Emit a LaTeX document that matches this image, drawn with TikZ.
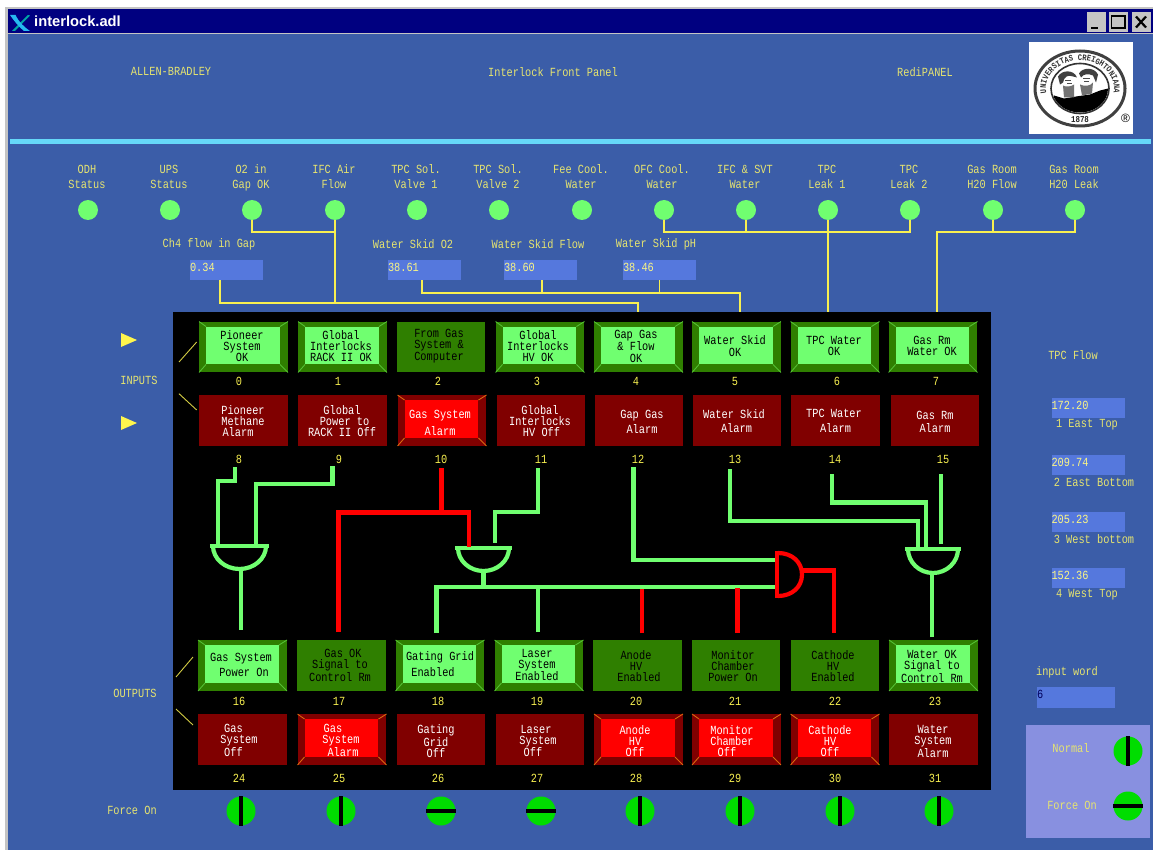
\documentclass[tikz,border=0pt]{standalone}
\usepackage{fontspec}
\usetikzlibrary{calc,decorations.text}
\newfontfamily\xf[FakeStretch=0.83]{Liberation Mono}
\newfontfamily\tf{Liberation Sans}
\definecolor{bgblue}{HTML}{3B5DA8}
\definecolor{navy}{HTML}{000080}
\definecolor{cyanbar}{HTML}{66D8F8}
\definecolor{valblue}{HTML}{5578DD}
\definecolor{forcep}{HTML}{8890E0}
\definecolor{lab}{HTML}{E6E470}
\definecolor{wy}{HTML}{F8F050}
\definecolor{lg}{HTML}{70FF70}
\definecolor{dg}{HTML}{2F7F00}
\definecolor{dgl}{HTML}{55C035}
\definecolor{dr}{HTML}{800000}
\definecolor{drl}{HTML}{D86A10}
\definecolor{sw}{HTML}{00DD00}
\definecolor{wingrey}{HTML}{C4C4C4}
\tikzset{
  xlabel/.style={font=\xf\fontsize{12.4}{15}\selectfont,text=lab,align=center,inner sep=0pt},
  numlabel/.style={font=\xf\fontsize{12.4}{15}\selectfont,text=wy,inner sep=0pt},
  lamp/.style={circle,fill=lg,inner sep=0pt,minimum size=20pt},
  valbox/.style={fill=valblue,minimum width=73pt,minimum height=20pt,inner sep=0pt},
  valtext/.style={font=\xf\fontsize{12.4}{15}\selectfont,text=wy!70!white,inner sep=0pt,anchor=west},
  ywire/.style={wy,line width=1.9pt},
  gwire/.style={lg,line width=4.6pt},
  rwire/.style={red,line width=4.6pt},
  gategreen/.style={lg,line width=4.2pt},
  gatered/.style={red,line width=4.2pt},
  gatebox/.style={inner sep=0pt},
  switchdisc/.style={circle,fill=sw,inner sep=0pt,minimum size=29pt},
  switchbar/.style={black,line width=3.4pt},
  pb/.style={minimum width=88.5pt,minimum height=50.5pt,inner sep=0pt},
  greenpb/.style={pb,fill=dg},
  redpb/.style={pb,fill=dr},
  greentxt/.style={font=\xf\fontsize{12.4}{11.3}\selectfont,text=black,align=center,inner sep=0pt},
  redtxt/.style={font=\xf\fontsize{12.4}{11.3}\selectfont,text=white,align=center,inner sep=0pt},
  winbtn/.style={fill=wingrey,minimum width=19pt,minimum height=20pt,inner sep=0pt},
  thinline/.style={wy!85!black,line width=0.9pt},
}
% panel button: id, cx, cy, tx, ty, text
\newcommand\litbevel[3]{%
  \fill[#2] ($(b#1.north west)+(7,5)$) rectangle ($(b#1.south east)+(-8,-8)$);
  \draw[#3,line width=0.9pt] (b#1.north west)--++(7,5) (b#1.north east)--++(-8,5)
     (b#1.south west)--++(7,-8) (b#1.south east)--++(-8,-8);}
\newcommand\gd[6]{\node[greenpb] (b#1) at (#2,#3) {};\node[greentxt] (t#1) at (#4,#5) {#6};}
\newcommand\gl[6]{\node[greenpb] (b#1) at (#2,#3) {};\litbevel{#1}{lg}{dgl}\node[greentxt] (t#1) at (#4,#5) {#6};}
\newcommand\rd[6]{\node[redpb] (b#1) at (#2,#3) {};\node[redtxt] (t#1) at (#4,#5) {#6};}
\newcommand\rl[6]{\node[redpb] (b#1) at (#2,#3) {};\litbevel{#1}{red}{drl}\node[redtxt] (t#1) at (#4,#5) {#6};}
% and gate, opening downwards: name, x1, x2, ybar, ybot, style
\newcommand\gatedown[6]{%
  \pgfmathsetmacro\gcx{(#2+#3)/2}\pgfmathsetmacro\gcy{(#4+#5)/2}%
  \pgfmathsetmacro\gw{#3-#2}\pgfmathsetmacro\gh{#5-#4}%
  \pgfmathsetmacro\gl{#2+3}\pgfmathsetmacro\gr{#3-3}%
  \pgfmathsetmacro\gk{0.55*\gh}\pgfmathsetmacro\gj{0.55*(\gr-\gl)/2}%
  \node[gatebox,minimum width=\gw pt,minimum height=\gh pt] (#1) at (\gcx,\gcy) {};
  \draw[#6] (#1.north west)--(#1.north east);
  \draw[#6] (\gl,#4) .. controls (\gl,#4+\gk) and (\gcx-\gj,#5) .. (\gcx,#5)
     .. controls (\gcx+\gj,#5) and (\gr,#4+\gk) .. (\gr,#4);}
\begin{document}
\begin{tikzpicture}[x=1pt,y=-1pt]
\useasboundingbox (0,0) rectangle (1153,850);
\fill[white] (0,0) rectangle (1153,850);
\fill[wingrey] (5,7) rectangle (1153,850);
\fill[bgblue] (7.5,9.5) rectangle (1153,850);
\fill[navy] (7.5,9.5) rectangle (1153,33);
\fill[wingrey] (7.5,33) rectangle (1153,34.5);
% title bar
\fill[teal!70!cyan] (28,15) -- (30,15.5) -- (15,31) -- (12,31) -- cycle;
\fill[cyan!85!white] (10,15) -- (15.5,15) .. controls (19,22) and (24,27) .. (30,31) -- (24,31) .. controls (19,27) and (14,21) .. (10,15) -- cycle;
\node[anchor=west,font=\tf\bfseries\fontsize{14.7}{15}\selectfont,text=white,inner sep=0pt] (title) at (34,21.5) {interlock.adl};
\node[winbtn] (minb) at (1096.5,22) {};
\node[winbtn] (maxb) at (1118.5,22) {};
\node[winbtn] (clob) at (1141,22) {};
\fill[black] (1091,27.5) rectangle (1098,29.5);
\draw[black,line width=1.4pt] (1111.5,16) rectangle (1125,28);
\draw[black,line width=2.2pt] (1136,16.5) -- (1146,27.5) (1146,16.5) -- (1136,27.5);
% headings
\node[xlabel] (hab) at (171,71.5) {ALLEN-BRADLEY};
\node[xlabel] (hif) at (553,72) {Interlock Front Panel};
\node[xlabel] (hrp) at (925,72) {RediPANEL};
% seal
\fill[white] (1029,42) rectangle (1132.5,134);
\begin{scope}[shift={(1080,88.5)},y=1pt]
  \draw[black!75,line width=3pt] (0,0) ellipse [x radius=45pt,y radius=37.5pt];
  \draw[black!80,line width=1.6pt] (0,0) ellipse [x radius=29pt,y radius=25pt];
  \path[decorate,decoration={text along path,text align=center,
      text={|\xf\bfseries\fontsize{8.6}{8}\selectfont\color{black!80}|UNIVERSITAS CREIGHTONIANA}}]
      (215:34 and 28) arc [start angle=215,end angle=-35,x radius=34pt,y radius=28pt];
  \begin{scope}
    \clip (0,0) ellipse [x radius=28pt,y radius=24pt];
    % shoulders
    \fill[black] (-28,-24) -- (-26,-7) -- (-16,-10) -- (-4,-8) -- (10,-6) -- (20,-2) -- (28,0) -- (28,-24) -- cycle;
    % left head
    \fill[black!75] (-22,12) .. controls (-18,19) and (-6,19) .. (-3,11) -- (-7,12) .. controls (-12,14) and (-16,12) .. (-17,6) -- (-20,4) -- cycle;
    \fill[black!55] (-17,3) .. controls (-14,1) and (-9,2) .. (-6,4) -- (-6,-9) -- (-16,-9) -- cycle;
    \draw[black!70,line width=0.8pt] (-15,8) -- (-9,8) (-13,5) -- (-8,5);
    % right head
    \fill[black!75] (-1,15) .. controls (2,21) and (14,22) .. (18,14) -- (16,6) -- (13,13) .. controls (8,15) and (4,15) .. (1,11) -- cycle;
    \fill[black!55] (0,4) .. controls (4,2) and (10,2) .. (13,6) -- (12,-5) -- (2,-7) -- cycle;
    \draw[black!70,line width=0.8pt] (3,10) -- (10,10) (4,7) -- (9,7);
  \end{scope}
\end{scope}
\node[font=\xf\bfseries\fontsize{9}{9}\selectfont,text=black!85,inner sep=0pt] (yr) at (1080,119.5) {1878};
\node[font=\tf\fontsize{12}{12}\selectfont,text=black,inner sep=0pt] (rmark) at (1125.5,118) {®};
\fill[cyanbar] (10,139) rectangle (1151,144);
% status lamps
\foreach \n/\x/\tx/\txt in {1/88/87/{ODH\\Status},2/170/169/{UPS\\Status},3/252/251/{O2 in\\Gap OK},4/335/334/{IFC Air\\Flow},5/417/416/{TPC Sol.\\Valve 1},6/499/498/{TPC Sol.\\Valve 2},7/582/581/{Fee Cool.\\Water},8/664/662/{OFC Cool.\\Water},9/746/745/{IFC \& SVT\\Water},10/828/827/{TPC\\Leak 1},11/910/909/{TPC\\Leak 2},12/993/992/{Gas Room\\H20 Flow},13/1075/1074/{Gas Room\\H20 Leak}}{
  \node[lamp] (l\n) at (\x,210) {};
  \node[xlabel] (lt\n) at (\tx,178) {\txt\vphantom{gO}};
}
% process values
\node[xlabel] (vl1) at (209,244) {Ch4 flow in Gap};
\node[xlabel] (vl2) at (413,244) {Water Skid O2};
\node[xlabel] (vl3) at (538,244) {Water Skid Flow};
\node[xlabel] (vl4) at (656,244) {Water Skid pH};
\foreach \n/\x/\v in {1/226.5/0.34,2/424.5/38.61,3/540.5/38.60,4/659.5/38.46}{
  \node[valbox] (v\n) at (\x,270) {};
  \node[valtext] (vt\n) at ($(v\n.west)+(0,-3)$) {\v};
}
% panel top wires
\coordinate (ch4w) at (220,280);
\coordinate (m4) at (638,303);
\coordinate (p4) at (638,312);
\coordinate (sk) at (740,293);
\coordinate (p5) at (740,312);
\coordinate (p7) at (937,312);
\coordinate (j1) at (335,232);
\coordinate (j2) at (910,232);
\coordinate (j3) at (937,232);
\coordinate (o2w) at (422,280);
\coordinate (flw) at (542,280);
\draw[ywire] (l3.south) |- (j1);
\draw[ywire] (l4.south) -- (l4.south |- m4);
\draw[ywire] (ch4w) |- (m4) -- (p4);
\draw[ywire] (o2w) |- (sk) -- (p5);
\draw[ywire] (flw) -- (flw |- sk);
\draw[ywire] (v4.south) -- (v4.south |- sk);
\draw[ywire] (l8.south) |- (j2) -- (l11.south);
\draw[ywire] (l9.south) -- (l9.south |- j1);
\draw[ywire] (l10.south) -- (l10.south |- p7);
\draw[ywire] (l13.south) |- (j3) -- (p7);
\draw[ywire] (l12.south) -- (l12.south |- j3);
% black panel
\node[fill=black,minimum width=818pt,minimum height=478pt,inner sep=0pt] (panel) at (582,551) {};
% buttons row 1
\gl{0}{243.5}{347}{242}{346}{Pioneer\\System\\OK}
\gl{1}{342.5}{347}{341}{346}{Global\\Interlocks\\RACK II OK}
\gd{2}{441}{347}{439}{346}{From Gas\\System \&\\Computer}
\gl{3}{540}{347}{538}{346}{Global\\Interlocks\\HV OK}
\gl{4}{638.5}{347}{636}{346}{Gap Gas\\\& Flow\\OK}
\gl{5}{736.5}{347}{735}{346}{Water Skid\\OK}
\gl{6}{835}{347}{834}{346}{TPC Water\\OK}
\gl{7}{933}{347}{932}{346}{Gas Rm\\Water OK}
% row 2
\rd{8}{243.5}{420.5}{243}{421}{Pioneer\\Methane\\Alarm\hspace*{10pt}}
\rd{9}{342.5}{420.5}{342}{421}{Global\\\hspace*{5pt}Power to\\RACK II Off}
\rl{10}{442}{420.5}{440}{423}{Gas System\\[4pt]Alarm}
\rd{11}{541}{420.5}{540}{421}{Global\\Interlocks\\\hspace*{3pt}HV Off}
\rd{12}{639}{420.5}{642}{422}{Gap Gas\\[2pt]Alarm}
\rd{13}{737}{420.5}{734}{421}{Water Skid\\[3pt]\hspace*{5pt}Alarm}
\rd{14}{835.5}{420.5}{834}{421}{TPC Water\\[3pt]\hspace*{3pt}Alarm}
\rd{15}{935}{420.5}{935}{422}{Gas Rm\\[2pt]Alarm}
% row 3
\gl{16}{242.5}{665.5}{241}{665}{Gas System\\[3pt]\hspace*{6pt}Power On}
\gd{17}{341.5}{665.5}{340}{665}{\hspace*{6pt}Gas OK\\Signal to\\Control Rm}
\gl{18}{440}{665.5}{440}{664}{Gating Grid\\[3pt]Enabled\hspace*{14pt}}
\gl{19}{539}{665.5}{537}{665}{Laser\\System\\Enabled}
\gd{20}{637.5}{665.5}{636}{666}{Anode\\HV\\\hspace*{6pt}Enabled}
\gd{21}{736}{665.5}{733}{666}{Monitor\\Chamber\\Power On}
\gd{22}{835}{665.5}{833}{666}{Cathode\\HV\\Enabled}
\gl{23}{933.5}{665.5}{932}{666}{Water OK\\Signal to\\Control Rm}
% row 4
\rd{24}{242.5}{739.5}{236}{740}{Gas\hspace*{5pt}\\\hspace*{6pt}System\\Off\hspace*{5pt}}
\rl{25}{342}{739.5}{341}{740}{Gas\hspace*{16pt}\\System\\\hspace*{4pt}Alarm}
\rd{26}{441}{739.5}{436}{741}{Gating\\Grid\\Off}
\rd{27}{540}{739.5}{536}{741}{Laser\\\hspace*{4pt}System\\Off\hspace*{6pt}}
\rl{28}{638.5}{739.5}{635}{741}{Anode\\HV\\Off}
\rl{29}{736.5}{739.5}{732}{741}{Monitor\\Chamber\\Off\hspace*{10pt}}
\rl{30}{835}{739.5}{830}{741}{Cathode\\HV\\Off}
\rd{31}{933.5}{739.5}{933}{741}{Water\\System\\Alarm}
% bit numbers
\foreach \n/\x in {0/239,1/338,2/438,3/537,4/636,5/735,6/837,7/936}{\node[numlabel] (n\n) at (\x,381.5) {\n};}
\foreach \n/\x in {8/239,9/339,10/441,11/541,12/638,13/735,14/835,15/943}{\node[numlabel] (n\n) at (\x,459.5) {\n};}
\foreach \n/\x in {16/239,17/339,18/438,19/537,20/636,21/735,22/835,23/935}{\node[numlabel] (n\n) at (\x,701.5) {\n};}
\foreach \n/\x in {24/239,25/339,26/438,27/537,28/636,29/735,30/835,31/935}{\node[numlabel] (n\n) at (\x,778.5) {\n};}
% logic gates
\gatedown{g1}{210}{269}{546}{569}{gategreen}
\gatedown{g2}{455}{512}{548}{571}{gategreen}
\gatedown{g4}{905}{961}{549}{573}{gategreen}
\node[gatebox,minimum width=25pt,minimum height=47pt] (g3) at (789.5,574.5) {};
\draw[gatered] (g3.north west) -- (g3.south west);
\draw[gatered] (778,553) .. controls (792,553) and (802,562) .. (802,574.5) .. controls (802,587) and (792,596) .. (778,596);
% wire ends
\coordinate (w8) at (235,467);
\coordinate (w9) at (332.7,466);
\coordinate (w10) at (441.7,468);
\coordinate (w11) at (538,468);
\coordinate (w12) at (633.7,467);
\coordinate (w13) at (730,469);
\coordinate (w14) at (832,474);
\coordinate (w15) at (941,474);
\coordinate (g1a) at (218,544);
\coordinate (g1b) at (256,544);
\coordinate (g2a) at (469,547);
\coordinate (g2b) at (495,543);
\coordinate (g3a) at (775,560);
\coordinate (g3b) at (775,587);
\coordinate (g3o) at (802,570.7);
\coordinate (g4a) at (918,547);
\coordinate (g4b) at (926,548);
\coordinate (g4c) at (941,544);
\coordinate (o16) at (241,630);
\coordinate (o17) at (338.7,632);
\coordinate (o18) at (436.7,633);
\coordinate (o19) at (538,632);
\coordinate (o20) at (642,633);
\coordinate (o21) at (737.7,633);
\coordinate (o22) at (834,633);
\coordinate (o23) at (932,637);
\coordinate (jr) at (469,512.7);
% wires
\draw[gwire] (w8) -- ++(0,14) -| (g1a);
\draw[gwire] (w9) -- ++(0,18) -| (g1b);
\draw[gwire] (o16 |- g1.south) -- (o16);
\draw[rwire] (w10) -- (w10 |- jr);
\draw[rwire] (o17) |- (jr) -- (g2a);
\draw[gwire] (w11) -- ++(0,44) -| (g2b);
\draw[gwire] (g2.south) -- (g2.south |- g3b);
\draw[gwire] (o18) |- (g3b);
\draw[gwire] (o19) -- (o19 |- g3b);
\draw[rwire] (o20) -- ++(0,-44);
\draw[rwire] (o21) -- ++(0,-45);
\draw[gwire] (w12) |- (g3a);
\draw[rwire] (g3o) -| (o22);
\draw[gwire] (w13) -- ++(0,52) -| (g4a);
\draw[gwire] (w14) -- ++(0,28.7) -| (g4b);
\draw[gwire] (w15) -- (g4c);
\draw[gwire] (o23) -- (o23 |- g4.south);
% side marks
\fill[yellow!70!white] (121,333) -- (137,340) -- (121,347) -- cycle;
\fill[yellow!70!white] (121,416) -- (137,423) -- (121,430) -- cycle;
\node[xlabel] (inp) at (139,380) {INPUTS};
\node[xlabel] (outp) at (135,693) {OUTPUTS};
\draw[thinline] (179,362) -- (196.7,342);
\draw[thinline] (179,393.7) -- (196.7,410);
\draw[thinline] (176,677) -- (193,657);
\draw[thinline] (176,709) -- (193,725);
\node[xlabel] (fon) at (132,810) {Force On};
% force switches
\foreach \n/\x in {0/241,1/341,2/441,3/541,4/640,5/740,6/840,7/939}{
  \node[switchdisc] (s\n) at (\x,811) {};
}
\foreach \n in {0,1,4,5,6,7}{\draw[switchbar] (s\n.north) -- (s\n.south);}
\foreach \n in {2,3}{\draw[switchbar] (s\n.west) -- (s\n.east);}
% right column
\node[xlabel] (tpcf) at (1073,355) {TPC Flow};
\foreach \n/\y/\v/\t/\tx in {1/408/172.20/1 East Top/1087,2/465/209.74/2 East Bottom/1094,3/522/205.23/3 West bottom/1094,4/578/152.36/4 West Top/1087}{
  \node[valbox] (r\n) at (1088,\y) {};
  \node[valtext] (rv\n) at ($(r\n.west)+(0,-3)$) {\v};
  \node[xlabel] (rl\n) at (\tx,\y+17) {\t};
}
\node[xlabel] (iw) at (1067,672) {input word};
\node[valbox,minimum width=78pt,minimum height=21pt] (ivb) at (1076,697.5) {};
\node[valtext,text=navy!70!black] (iv) at ($(ivb.west)+(0,-3)$) {6};
\fill[forcep] (1026,725) rectangle (1150,838);
\node[xlabel] (nm) at (1071,748) {Normal};
\node[xlabel] (fn) at (1072,805) {Force On};
\node[switchdisc] (sn) at (1128,751) {};
\node[switchdisc] (sf) at (1128,806) {};
\draw[switchbar] (sn.north) -- (sn.south);
\draw[switchbar] (sf.west) -- (sf.east);
\end{tikzpicture}
\end{document}
